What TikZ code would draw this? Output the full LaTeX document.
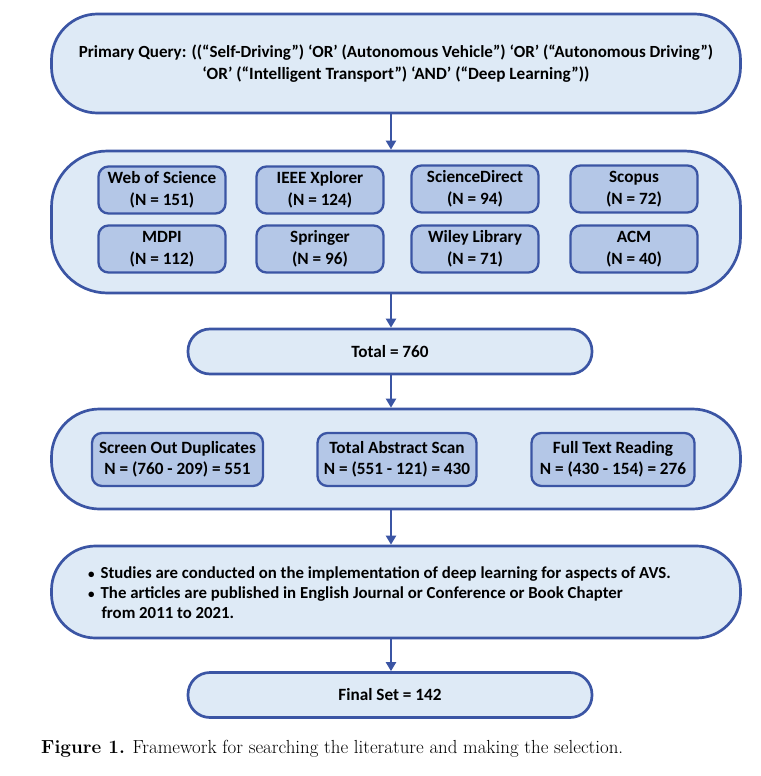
\documentclass[tikz,border=0pt]{standalone}
\usepackage{fontspec}
\newfontfamily\dfont{Carlito}
\usetikzlibrary{arrows.meta}
\definecolor{fillA}{HTML}{DEEAF6}
\definecolor{fillB}{HTML}{B4C7E7}
\definecolor{edgec}{HTML}{3B55A4}
\begin{document}
\begin{tikzpicture}[x=1pt,y=-1pt,
  txt/.style={font=\dfont\bfseries\fontsize{17.2}{21.5}\selectfont, align=center, text=black},
  outer/.style={draw=edgec, fill=fillA, line width=2.7pt, rounded corners=#1, inner sep=0pt, txt},
  inner/.style={draw=edgec, fill=fillB, line width=2.3pt, rounded corners=10pt, inner sep=0pt, txt},
  flow/.style={draw=edgec, line width=2.3pt, -{Triangle[length=9pt,width=10pt]}}]
\useasboundingbox (0,0) rectangle (760,776);
% outer boxes
\node[outer=46pt, minimum width=689pt, minimum height=99pt] (q) at (396,63.5)
  {\fontsize{17}{21.5}\selectfont Primary Query: ((“Self-Driving”) ‘OR’ (Autonomous Vehicle”) ‘OR’ (“Autonomous Driving”)\\
   ‘OR’ (“Intelligent Transport”) ‘AND’ (“Deep Learning”))};
\node[outer=56pt, minimum width=689pt, minimum height=142pt] (db) at (396,222) {};
\node[outer=22pt, minimum width=404pt, minimum height=45pt] (tot) at (390,351.5) {Total = 760};
\node[outer=48pt, minimum width=689pt, minimum height=100pt] (scr) at (396,459) {};
\node[outer=44pt, minimum width=689pt, minimum height=92pt] (crit) at (396,592) {};
\node[outer=22pt, minimum width=404pt, minimum height=45pt] (fin) at (390,695) {Final Set = 142};
% database boxes
\node[inner, minimum width=127pt, minimum height=47pt] (wos) at (162,190) {Web of Science\\(N = 151)};
\node[inner, minimum width=127pt, minimum height=47pt] (ieee) at (320,190) {IEEE Xplorer\\(N = 124)};
\node[inner, minimum width=127pt, minimum height=47pt] (sd) at (475,189) {ScienceDirect\\(N = 94)};
\node[inner, minimum width=127pt, minimum height=47pt] (sco) at (634,189) {Scopus\\(N = 72)};
\node[inner, minimum width=127pt, minimum height=47pt] (mdpi) at (162,249) {MDPI\\(N = 112)};
\node[inner, minimum width=127pt, minimum height=47pt] (spr) at (320,249) {Springer\\(N = 96)};
\node[inner, minimum width=127pt, minimum height=47pt] (wil) at (475,249) {Wiley Library\\(N = 71)};
\node[inner, minimum width=127pt, minimum height=47pt] (acm) at (634,249) {ACM\\(N = 40)};
% screening boxes
\node[inner, minimum width=171pt, minimum height=53pt] (dup) at (177.5,459.5) {Screen Out Duplicates\\N = (760 - 209) = 551};
\node[inner, minimum width=159pt, minimum height=53pt] (abs) at (397,459.5) {Total Abstract Scan\\N = (551 - 121) = 430};
\node[inner, minimum width=163pt, minimum height=53pt] (ful) at (613,459.5) {Full Text Reading\\N = (430 - 154) = 276};
% criteria text
\node[txt, anchor=west, align=left, inner sep=0pt] (crtxt) at (88,594)
  {\fontsize{16.8}{20}\selectfont
   \begin{tabular}{@{}l@{\hspace{6pt}}l@{}}
   {\fontsize{13}{13}\selectfont •}&Studies are conducted on the implementation of deep learning for aspects of AVS.\\
   {\fontsize{13}{13}\selectfont •}&The articles are published in English Journal or Conference or Book Chapter\\
   &\hspace{1pt}from 2011 to 2021.
   \end{tabular}};
% arrows
\coordinate (ax) at (391,0);
\draw[flow] (q.south -| ax) -- (db.north -| ax);
\draw[flow] (db.south -| ax) -- (tot.north -| ax);
\draw[flow] (tot.south -| ax) -- (scr.north -| ax);
\draw[flow] (scr.south -| ax) -- (crit.north -| ax);
\draw[flow] (crit.south -| ax) -- (fin.north -| ax);
% caption
\node[anchor=west, inner sep=0pt, font=\fontsize{18.9}{22}\selectfont] (cap) at (41,749)
  {\textbf{Figure 1.} Framework for searching the literature and making the selection.};
\end{tikzpicture}
\end{document}
